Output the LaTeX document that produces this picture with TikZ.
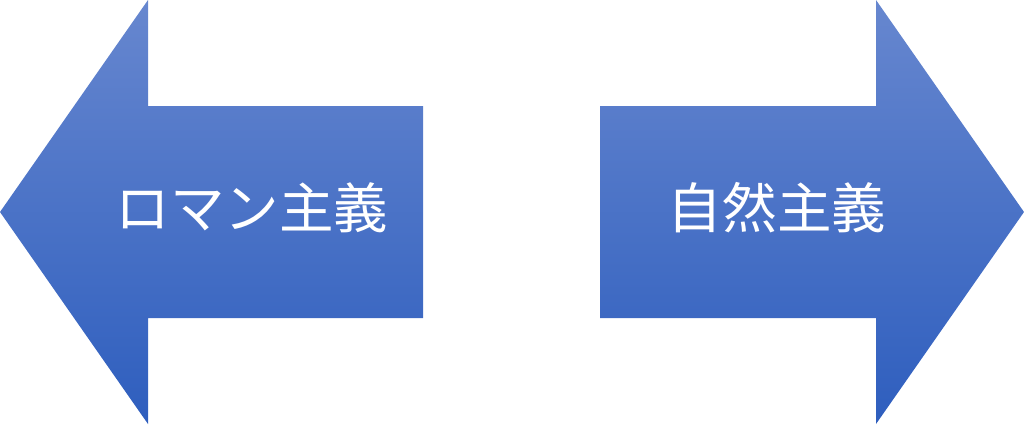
\documentclass[tikz,border=0pt]{standalone}
\usepackage{fontspec}
\newfontfamily\jpfont{Noto Sans CJK JP}
\usepackage{tikz}
\usetikzlibrary{positioning}

\definecolor{arrowtop}{HTML}{6787CF}
\definecolor{arrowmid}{HTML}{4774C8}
\definecolor{arrowbot}{HTML}{2E5EBE}

\tikzset{
  arrowfill/.style={top color=arrowtop, middle color=arrowmid, bottom color=arrowbot, draw=none},
  arrowtext/.style={text=white, font=\jpfont\fontsize{15.5pt}{18pt}\selectfont, inner sep=0pt}
}

\begin{document}
\begin{tikzpicture}[x=0.01cm, y=-0.01cm]
\useasboundingbox (0,0) rectangle (1024,424);
% left arrow
\shade[arrowfill] (0,212) -- (148,0) -- (148,106) -- (423,106) -- (423,318) -- (148,318) -- (148,424) -- cycle;
% right arrow
\shade[arrowfill] (1024,212) -- (876,0) -- (876,106) -- (600,106) -- (600,318) -- (876,318) -- (876,424) -- cycle;

\node[arrowtext] (roman) at (252,208) {ロマン主義};
\node[arrowtext] (shizen) at (777,208) {自然主義};
\end{tikzpicture}
\end{document}
